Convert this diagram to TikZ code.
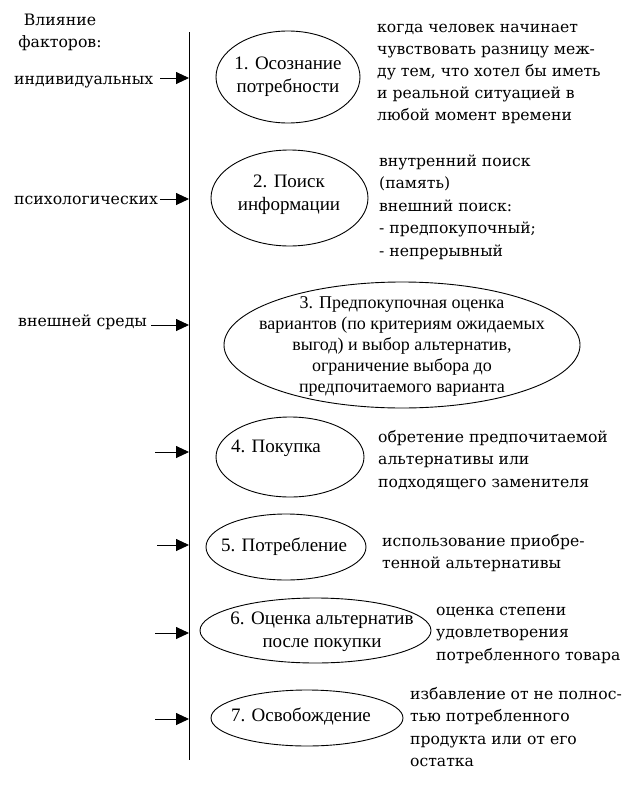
\documentclass[tikz,border=0pt]{standalone}
\usepackage{fontspec}
\setmainfont{Liberation Serif}
\newfontfamily\descfont{DejaVu Serif}
\usetikzlibrary{shapes.geometric,arrows.meta}
\begin{document}
\begin{tikzpicture}[x=1pt,y=-1pt,
  ell/.style={draw, ellipse, line width=0.9pt, inner sep=0pt},
  etext/.style={font=\fontsize{19}{23}\selectfont, align=center, inner sep=0pt},
  desc/.style={font=\descfont\fontsize{15.6}{22.5}\selectfont, align=left, anchor=base west, inner sep=0pt},
  lab/.style={font=\descfont\fontsize{15.7}{22}\selectfont, inner sep=0pt},
  arr/.style={-{Triangle[length=13pt,width=12pt]}, line width=0.9pt}]
\useasboundingbox (0,0) rectangle (635,787);
% axis
\coordinate (top) at (189,32);
\coordinate (bot) at (189,760);
\draw[line width=0.9pt] (top) -- (bot);
% left labels (base anchor = last line)
\node[lab, align=center, anchor=base] (head) at (60,47) {Влияние\\факторов:};
\node[lab, anchor=base west] (l1) at (14,84) {индивидуальных};
\node[lab, anchor=base west] (l2) at (14,204) {психологических};
\node[lab, anchor=base west] (l3) at (18,326) {внешней среды};
% arrows
\coordinate (s1) at (160,78);  \coordinate (t1) at (189,78);
\coordinate (s2) at (160,199); \coordinate (t2) at (189,199);
\coordinate (s3) at (151,325); \coordinate (t3) at (189,325);
\coordinate (s4) at (155,452); \coordinate (t4) at (189,452);
\coordinate (s5) at (157,545); \coordinate (t5) at (189,545);
\coordinate (s6) at (155,633); \coordinate (t6) at (189,633);
\coordinate (s7) at (155,719); \coordinate (t7) at (189,719);
\foreach \i in {1,...,7} {\draw[arr] (s\i) -- (t\i);}
% ellipses
\node[ell, minimum width=144pt, minimum height=92pt] (e1) at (288,77) {};
\node[ell, minimum width=157pt, minimum height=96pt] (e2) at (289.5,198) {};
\node[ell, minimum width=356pt, minimum height=126pt] (e3) at (402,345) {};
\node[ell, minimum width=148pt, minimum height=80pt] (e4) at (290,457) {};
\node[ell, minimum width=160pt, minimum height=66pt] (e5) at (286,547) {};
\node[ell, minimum width=231pt, minimum height=65pt] (e6) at (315.5,630.5) {};
\node[ell, minimum width=192pt, minimum height=56pt] (e7) at (307,718) {};
% ellipse texts
\node[etext] (e1t) at (288,77) {1. Осознание\\потребности};
\node[etext] (e2t) at (289,195) {2. Поиск\\информации};
\node[etext, font=\fontsize{18}{21}\selectfont] (e3t) at (402,346) {3. Предпокупочная оценка\\вариантов (по критериям ожидаемых\\выгод) и выбор альтернатив,\\ограничение выбора до\\предпочитаемого варианта};
\node[etext] (e4t) at (276,448) {4. Покупка};
\node[etext] (e5t) at (284,547) {5. Потребление};
\node[etext] (e6t) at (322,632) {6. Оценка альтернатив\\после покупки};
\node[etext] (e7t) at (301,717) {7. Освобождение};
% descriptions (base anchor = last line)
\node[desc, font=\descfont\fontsize{15.6}{22}\selectfont] (d1) at (377,120) {когда человек начинает\\чувствовать разницу меж-\\ду тем, что хотел бы иметь\\и реальной ситуацией в\\любой момент времени};
\node[desc] (d2) at (379,256) {внутренний поиск\\(память)\\внешний поиск:\\- предпокупочный;\\- непрерывный};
\node[desc] (d4) at (378,487) {обретение предпочитаемой\\альтернативы или\\подходящего заменителя};
\node[desc] (d5) at (382,568.5) {использование приобре-\\тенной альтернативы};
\node[desc] (d6) at (436,660) {оценка степени\\удовлетворения\\потребленного товара};
\node[desc] (d7) at (410,766.5) {избавление от не полнос-\\тью потребленного\\продукта или от его\\остатка};
\end{tikzpicture}
\end{document}
